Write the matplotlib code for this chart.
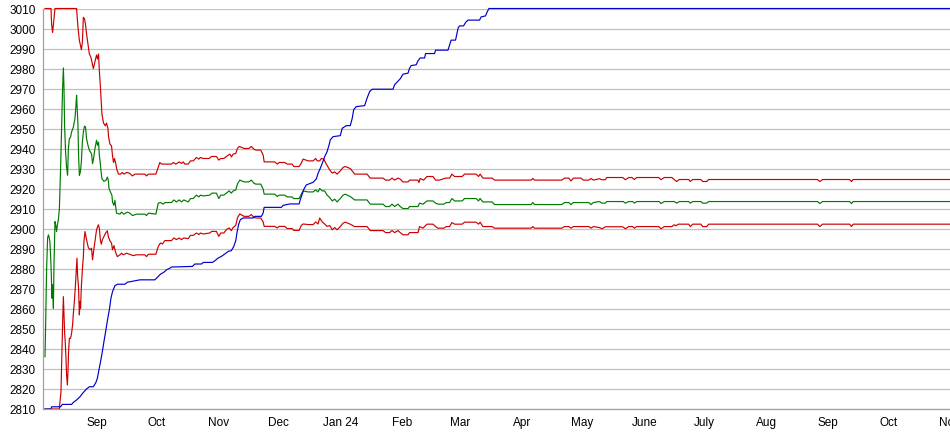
import matplotlib
matplotlib.use("Agg")
import matplotlib.pyplot as plt
import pandas as pd

# x values are day offsets from START
START = pd.Timestamp("2023-08-05")

upper_days = [1, 4, 4.3, 4.8, 5.2, 6, 16.8, 17.5, 18.2, 18.8, 19.2, 19.7, 20.2, 20.8, 21.3, 21.8,
              22.5, 23.2, 24, 24.7, 25.2, 26, 26.8, 27.3, 27.8, 28.2, 28.7, 29.2, 29.5, 30.3, 31.2,
              31.8, 32.5, 32.8, 33.5, 34.3, 34.8, 35.3, 35.8, 36.3, 37, 37.8, 38.8, 39.7, 40.5, 41.8,
              43.2, 44.8, 46, 51, 51.8, 52.8, 56.5, 58.5, 59.3, 64.3, 65.2, 66.5, 68.2, 69.3, 70.2,
              71, 72.7, 73.8, 75.2, 76.8, 78, 78.8, 80.2, 83.2, 84.3, 86.8, 88, 89, 90.5, 91.8, 93.5,
              94.3, 95.2, 96.5, 97.3, 98.2, 100.7, 103, 104.3, 105.5, 106.5, 109, 110.2, 110.7, 116,
              117.3, 118.2, 121, 122.2, 124.7, 125.5, 128.2, 129.3, 130.2, 132.7, 135.2, 136.5,
              137.3, 138.5, 139.3, 140.5, 141.8, 143.5, 144.8, 146, 147.2, 148.8, 150.2, 151.3,
              153.8, 156, 162.2, 163.8, 170.2, 171.5, 173.5, 174.7, 176, 177.7, 178.8, 180.2, 182.7,
              183.5, 187.7, 188.2, 188.8, 190.5, 192.2, 195.2, 196.5, 198.5, 201.5, 203.5, 204.7,
              206, 209.8, 211, 216.8, 218, 218.8, 220.2, 224.8, 226, 244.3, 245.2, 246, 259.7, 261,
              263.2, 264.3, 265.5, 269.3, 270.5, 273.2, 274.3, 275.5, 278.5, 279.8, 281.5, 282.2,
              290.2, 291.5, 293.2, 294.8, 296, 297.2, 308.2, 309.3, 311, 314.8, 316, 317.2, 318.5,
              323.2, 324, 325.2, 329.3, 330.2, 332.2, 333.2, 387.7, 388.8, 390.2, 403.8, 404.7,
              405.5, 454]
upper_vals = [3010, 3010, 3002.3, 2998, 3002, 3010, 3010, 3000.6, 2994, 2991.4, 2989.4, 2993,
              3005.6, 3004.8, 3001.8, 2997.3, 2992.3, 2987.3, 2985.6, 2982.3, 2980, 2983.4, 2986.8,
              2984.8, 2987.3, 2978.9, 2971.4, 2962.3, 2957.3, 2952.8, 2951.4, 2952.8, 2950.1,
              2946.1, 2942.3, 2941.4, 2936.4, 2933.1, 2935.1, 2933.1, 2929.4, 2927.3, 2927.3,
              2928.1, 2927.3, 2928.1, 2927.8, 2926.4, 2927.3, 2927.3, 2926.4, 2927.3, 2927.3,
              2933.1, 2932.3, 2932.3, 2933.1, 2932.3, 2933.4, 2932.6, 2933.4, 2932.3, 2932.3,
              2933.9, 2933.9, 2935.6, 2934.8, 2935.6, 2935.1, 2935.1, 2936.1, 2936.1, 2934.3,
              2935.1, 2935.1, 2936.1, 2937.3, 2935.9, 2937.3, 2937.6, 2940.1, 2941.1, 2940.1,
              2940.1, 2941.1, 2939.8, 2939.3, 2939.3, 2936.8, 2933.4, 2933.4, 2932.3, 2933.1,
              2933.1, 2932.3, 2932.3, 2931.1, 2931.1, 2932.8, 2934.8, 2933.9, 2933.9, 2935.1,
              2933.9, 2933.9, 2935.1, 2934.8, 2932.3, 2929.4, 2927.8, 2928.4, 2927.3, 2928.9,
              2930.6, 2931.1, 2930.1, 2927.3, 2927.3, 2925.3, 2925.3, 2924.3, 2924.3, 2925.3,
              2924.3, 2925.3, 2924.8, 2923.4, 2923.4, 2924.3, 2924.3, 2923.1, 2925.1, 2924.3,
              2926.1, 2926.1, 2924.3, 2924.3, 2925.3, 2925.3, 2927.3, 2926.1, 2926.1, 2927.3,
              2927.3, 2926.1, 2927.3, 2925.3, 2925.3, 2924.3, 2924.3, 2925.1, 2924.3, 2924.3,
              2925.3, 2925.3, 2923.9, 2925.3, 2925.3, 2924.3, 2924.3, 2925.1, 2924.3, 2925.0,
              2924.5, 2924.5, 2925.6, 2925.6, 2924.5, 2925.6, 2925.6, 2924.6, 2925.6, 2925.6,
              2924.5, 2925.6, 2925.6, 2924.5, 2923.6, 2924.6, 2924.6, 2923.6, 2924.6, 2924.6,
              2923.6, 2923.6, 2924.6, 2924.6, 2923.6, 2924.6, 2924.6, 2923.6, 2924.6, 2924.6]

mid_days = [1, 1.3, 1.8, 2.3, 2.7, 3.2, 3.5, 4, 4.5, 4.8, 5.2, 5.5, 6, 6.5, 6.8, 7.2, 7.7, 8.2,
            8.8, 9.3, 9.8, 10.2, 10.5, 10.8, 11.3, 11.8, 12.3, 12.7, 13.2, 13.8, 14.3, 15.2, 16,
            16.5, 16.8, 17.2, 17.5, 17.8, 18.2, 18.7, 19.2, 19.7, 20.2, 20.8, 21.3, 21.8, 22.5,
            23.2, 23.8, 24.3, 24.8, 25.3, 26, 26.8, 27.3, 27.8, 28.2, 28.7, 29, 29.5, 30.5, 31.5,
            32.2, 32.7, 33, 33.8, 34.5, 34.8, 35.5, 36, 36.5, 36.8, 38.5, 39.3, 40.5, 42.2, 43.5,
            44.8, 46.8, 51, 51.8, 52.8, 56.5, 57.7, 58.8, 60.2, 61, 64.3, 65.5, 66.8, 68.2, 69.3,
            70.5, 72.7, 73.8, 75.2, 76.8, 78, 78.8, 80.2, 83.5, 84.5, 86.8, 88, 89, 90.5, 91.8,
            93.2, 94.2, 95.2, 96.5, 97.3, 98.5, 100.7, 103, 104.3, 105.5, 106.5, 109, 110.2,
            110.7, 116, 117.3, 118.2, 121, 122.2, 124.7, 125.5, 128.2, 129.3, 130.2, 132.7, 135.2,
            136.5, 137.7, 138.5, 139.8, 141, 142.2, 143.5, 144.8, 146, 147.2, 148.8, 150.2, 151.3,
            153.8, 156, 162.2, 163.8, 170.2, 171.5, 173.5, 174.7, 176, 177.7, 178.8, 180.2, 182.7,
            183.5, 187.7, 188.5, 190.2, 192.2, 195.2, 196.5, 197.7, 200.7, 201.8, 203.5, 204.7,
            206, 209.8, 211, 216.8, 218, 218.8, 220.2, 224.8, 226, 244.3, 245.2, 246, 259.7, 261,
            263.2, 264.3, 265.5, 273.2, 274.3, 275.5, 278.5, 279.8, 281.5, 282.2, 290.5, 291.5,
            293.2, 295.2, 296, 297.2, 308.5, 309.3, 311, 316, 317.2, 318.5, 323.2, 324, 325.2,
            329.3, 330.2, 332.2, 333.2, 387.7, 388.8, 390.2, 403.8, 404.7, 405.5, 454]
mid_vals = [2836.1, 2851, 2879.5, 2895.3, 2897, 2895.3, 2892.8, 2882, 2865.3, 2872, 2860.3, 2882,
            2903.6, 2901.1, 2898.6, 2902, 2904.5, 2910, 2930, 2949.2, 2970, 2980.3, 2970.8,
            2951.7, 2938.3, 2930.8, 2926.7, 2940, 2945, 2945.8, 2948.3, 2950.8, 2955, 2961.7,
            2966.7, 2957.5, 2951.7, 2936.7, 2926.7, 2928.3, 2933.3, 2943.3, 2948.3, 2951.3,
            2950.8, 2945, 2941.7, 2939.2, 2938.3, 2937.5, 2932.5, 2935, 2940, 2944.2, 2941.7,
            2943.3, 2936.7, 2932.5, 2929.2, 2925, 2923.7, 2924.2, 2925.8, 2924.2, 2920.3, 2918.3,
            2916.7, 2913.3, 2911.7, 2914.2, 2910, 2907.8, 2907.3, 2908.3, 2907.3, 2908.3, 2907.8,
            2906.6, 2907.3, 2907.3, 2906.6, 2907.8, 2907.3, 2912.8, 2913.1, 2912.3, 2913.1,
            2913.1, 2914.4, 2913.4, 2914.4, 2913.4, 2914.4, 2913.4, 2915.1, 2915.1, 2916.8,
            2915.9, 2916.8, 2916.4, 2916.8, 2917.8, 2917.8, 2915.1, 2916.8, 2916.8, 2917.8,
            2918.9, 2917.8, 2918.9, 2919.4, 2922.3, 2924.3, 2923.4, 2923.4, 2924.3, 2922.8,
            2922.3, 2922.3, 2919.8, 2917.3, 2917.3, 2916.1, 2916.8, 2916.8, 2915.9, 2915.9,
            2915.1, 2915.1, 2917.3, 2918.9, 2918.4, 2918.4, 2919.4, 2918.4, 2920.1, 2918.9,
            2918.9, 2916.8, 2915.6, 2913.9, 2914.8, 2913.4, 2915.1, 2916.8, 2917.3, 2916.1,
            2914.4, 2914.4, 2912.3, 2912.3, 2911.1, 2911.1, 2912.3, 2911.1, 2912.3, 2911.1,
            2910.1, 2910.1, 2911.1, 2911.1, 2912.8, 2912.3, 2913.9, 2913.9, 2912.8, 2912.3,
            2912.3, 2913.1, 2913.1, 2915.1, 2913.9, 2913.9, 2915.1, 2915.1, 2913.9, 2915.1,
            2913.4, 2913.4, 2912.1, 2912.1, 2913.1, 2912.1, 2912.1, 2913.1, 2913.1, 2912.1,
            2913.1, 2913.1, 2912.1, 2913.1, 2913.6, 2912.8, 2912.8, 2913.6, 2913.6, 2912.8,
            2913.6, 2913.6, 2912.8, 2913.6, 2913.6, 2912.6, 2913.6, 2913.6, 2912.8, 2913.6,
            2913.6, 2912.8, 2913.6, 2913.6, 2912.8, 2912.8, 2913.6, 2913.6, 2912.6, 2913.6,
            2913.6, 2912.6, 2913.6, 2913.6]

lower_days = [1, 8.2, 8.5, 9, 9.3, 9.8, 10.2, 10.5, 10.8, 11.2, 11.5, 11.8, 12.2, 12.5, 12.8, 13.2,
              13.8, 14.3, 14.8, 15.2, 15.7, 16.2, 16.7, 17, 17.3, 17.8, 18.2, 18.5, 18.8, 19.2,
              19.7, 20.2, 20.5, 21, 21.5, 22, 22.7, 23.5, 24.3, 24.8, 25.3, 26, 26.8, 27.7, 28.2,
              28.7, 29.2, 29.7, 30.5, 31.3, 32.2, 32.7, 33.5, 34.3, 34.8, 35.5, 36, 36.5, 37.2,
              38.5, 39.3, 40.2, 41.8, 43.2, 45.2, 46.8, 51, 51.8, 52.8, 56.5, 57.7, 58.8, 59.8, 61,
              64.3, 65.5, 66.8, 68.2, 69.3, 70.5, 72.7, 73.8, 75.2, 76.8, 78, 78.8, 80.2, 83.5,
              84.5, 86.8, 88, 89, 90.5, 91.8, 93.2, 94.2, 95.2, 96.5, 97.3, 98.5, 100.7, 103,
              104.3, 105.5, 106.5, 109, 110.2, 110.7, 116, 117.3, 118.2, 121, 122.2, 124.7, 125.5,
              128.2, 129.3, 130.2, 132.7, 135.2, 136.5, 137.7, 138.5, 139.8, 141, 142.2, 143.5,
              144.8, 146, 147.2, 148.8, 150.2, 151.3, 153.8, 156, 162.2, 163.8, 170.2, 171.5,
              173.5, 174.7, 176, 177.7, 178.8, 180.2, 182.7, 183.5, 187.7, 188.5, 190.2, 192.2,
              195.2, 196.5, 197.7, 200.7, 201.8, 203.5, 204.7, 206, 209.8, 211, 216.8, 218, 218.8,
              220.2, 224.8, 226, 244.3, 245.2, 246, 259.7, 261, 263.2, 264.3, 265.5, 273.2, 274.3,
              275.5, 278.5, 279.8, 281.5, 290.2, 291.5, 293.2, 295.2, 296, 297.2, 308.2, 309.3,
              311, 314.8, 316, 316.8, 318, 323.2, 324, 325.2, 329.3, 330.2, 332.2, 333.2, 387.7,
              388.8, 390.2, 403.8, 404.7, 405.5, 454]
lower_vals = [2810, 2810, 2813.6, 2818.6, 2832, 2852, 2866.1, 2857.8, 2848.6, 2842, 2835.3, 2827,
              2822, 2828.6, 2838.6, 2845.3, 2845.3, 2847.8, 2852, 2857.8, 2863.6, 2871.1, 2880.3,
              2885.3, 2877, 2870.3, 2857, 2863.6, 2860.3, 2871.1, 2879.5, 2886.1, 2893.6, 2898.6,
              2896.1, 2893.6, 2890.6, 2889.5, 2890.3, 2884.5, 2888.6, 2893.6, 2899.5, 2902,
              2900.3, 2894.5, 2892.3, 2894.5, 2896.1, 2897.8, 2899, 2896.1, 2894, 2892.8, 2889.5,
              2891.6, 2889.5, 2887.8, 2886.1, 2887, 2887.8, 2887, 2887.8, 2887.3, 2886.6, 2887,
              2887, 2886.1, 2887.3, 2887.3, 2891.2, 2892.9, 2892.4, 2894.1, 2894.1, 2895.4,
              2894.6, 2895.4, 2894.6, 2895.4, 2895.1, 2896.7, 2896.7, 2897.9, 2897.1, 2897.9,
              2897.4, 2897.9, 2898.7, 2898.7, 2896.2, 2897.9, 2897.9, 2899.6, 2900.4, 2899.1,
              2900.7, 2901.7, 2905.4, 2907.4, 2906.2, 2906.2, 2907.1, 2905.7, 2905.4, 2905.4,
              2903.4, 2901.2, 2901.2, 2900.4, 2901.2, 2901.2, 2900.1, 2900.1, 2899.2, 2899.2,
              2901.7, 2902.4, 2902.1, 2902.1, 2903.4, 2902.4, 2905.4, 2903.4, 2902.4, 2901.2,
              2901.6, 2899.5, 2900.6, 2899.5, 2901.1, 2902.8, 2903.3, 2902.3, 2901.1, 2901.1,
              2899.1, 2899.1, 2898.1, 2898.1, 2899.1, 2898.1, 2899.1, 2898.1, 2897, 2897, 2898.1,
              2898.1, 2901.1, 2900.3, 2902.3, 2902.3, 2901.1, 2900.3, 2900.3, 2901.1, 2901.1,
              2903.1, 2902.3, 2902.3, 2903.3, 2903.3, 2902.3, 2903.3, 2901.1, 2901.1, 2900.3,
              2900.3, 2901.1, 2900.3, 2900.3, 2901.1, 2901.1, 2900.3, 2901.1, 2901.1, 2900.3,
              2901.1, 2900.6, 2900, 2901, 2901, 2900, 2901.1, 2901.1, 2900.3, 2901.1, 2901.1,
              2900, 2901.1, 2901.1, 2902, 2901.5, 2902.3, 2902.3, 2901.1, 2902.3, 2902.3, 2901.1,
              2901.1, 2902.3, 2902.3, 2901.1, 2902.3, 2902.3, 2901.1, 2902.3, 2902.3]

blue_days = [1, 4, 4.3, 8.8, 9.7, 14.3, 15.2, 16.8, 18.5, 19.8, 21.8, 23.2, 25.2, 26.5, 27.2, 28,
             28.8, 29.7, 30.5, 31.5, 32.3, 33.2, 34, 34.8, 36, 37.3, 41, 42.2, 48.5, 56, 56.8, 58.8,
             60.5, 61.8, 63.5, 64.3, 74.8, 76, 79.3, 80.2, 84.8, 86, 87.7, 89.3, 91, 92.7, 94.3,
             95.5, 96.5, 97.2, 98, 98.8, 100.2, 105.2, 106, 109.3, 110.2, 110.7, 119.3, 120.2,
             123.5, 128.2, 128.8, 129.8, 130.5, 131.8, 135.2, 136.8, 137.7, 138.8, 139.8, 141,
             142.2, 143.2, 143.8, 145.2, 148.8, 149.8, 151.8, 153.8, 154.8, 155.5, 156.8, 161,
             162.2, 163.5, 164.8, 175.2, 176, 177.2, 178.8, 180.2, 182.7, 183.5, 184.3, 186.8,
             187.7, 188.8, 191, 191.5, 196, 196.5, 202.7, 203.5, 204.3, 206.5, 207.2, 207.8,
             208.5, 210.5, 211.5, 212.7, 218.5, 219.3, 221.5, 222.2, 223.2, 454]
blue_vals = [2810, 2810, 2811.1, 2811.1, 2812.3, 2812.3, 2813.3, 2814.5, 2816.1, 2817.8, 2820,
             2821.1, 2821.1, 2823.3, 2825.3, 2829.5, 2833.6, 2838.6, 2843.6, 2849.5, 2854.5,
             2859.5, 2865.3, 2868.6, 2871.6, 2872.3, 2872.3, 2873.3, 2874.5, 2874.5, 2875.3,
             2877.3, 2878.3, 2879.5, 2880.3, 2880.9, 2881.2, 2882.4, 2882.4, 2883.2, 2883.2, 2884,
             2885.4, 2886.2, 2887.4, 2888.7, 2889.1, 2891.2, 2894.1, 2898.7, 2902.4, 2904.6,
             2905.4, 2905.4, 2906.2, 2906.2, 2907.9, 2910.7, 2910.7, 2911.7, 2912.4, 2912.4,
             2914.6, 2917.4, 2919.6, 2921.9, 2923.2, 2924.9, 2927.7, 2930.2, 2932.7, 2936,
             2938.5, 2941.9, 2944.4, 2946, 2946.5, 2950.2, 2951.5, 2951.5, 2955.2, 2959.4, 2961,
             2961.5, 2965.2, 2968.5, 2969.7, 2969.7, 2971.9, 2973.2, 2974.9, 2977.2, 2977.7,
             2980.2, 2981.5, 2981.9, 2983.9, 2985.3, 2985.3, 2987.5, 2987.5, 2989.2, 2989.2,
             2991.7, 2994.2, 2994.2, 2997.5, 3000.3, 3001.3, 3001.3, 3003, 3004.2, 3004.2, 3005.8,
             3006.3, 3008, 3010, 3010]

month_labels = ["Sep", "Oct", "Nov", "Dec", "Jan 24", "Feb", "Mar", "Apr", "May", "June",
                "July", "Aug", "Sep", "Oct", "Nov"]


def to_dates(days):
    return START + pd.to_timedelta(days, unit="D")


plt.rcParams["font.family"] = ["Liberation Sans", "DejaVu Sans"]

fig = plt.figure(figsize=(9.5, 4.35), dpi=100)
ax = fig.add_axes([43 / 950, 1 - 410 / 435, 1 - 43 / 950, 400.5 / 435])

line_kw = dict(lw=0.85, clip_on=False)
ax.plot(to_dates(upper_days), upper_vals, color="#cc0000", **line_kw)
ax.plot(to_dates(mid_days), mid_vals, color="#007a00", **line_kw)
ax.plot(to_dates(lower_days), lower_vals, color="#cc0000", **line_kw)
ax.plot(to_dates(blue_days), blue_vals, color="#0000cc", **line_kw)

ax.set_ylim(2810, 3010)
ax.set_yticks(range(2810, 3011, 10))
ax.set_xlim(START, START + pd.Timedelta(days=453.5))
ax.set_xticks(pd.date_range("2023-09-01", "2024-11-01", freq="MS"))
ax.set_xticklabels(month_labels)

ax.grid(axis="y", color="#c0c0c0", lw=0.9)
ax.set_axisbelow(True)
for side in ["top", "right"]:
    ax.spines[side].set_visible(False)
for side in ["left", "bottom"]:
    ax.spines[side].set_color("#a0a0a0")
    ax.spines[side].set_linewidth(0.9)
ax.tick_params(axis="both", length=0, labelsize=8.5, colors="#000000")
ax.tick_params(axis="y", pad=5)
ax.tick_params(axis="x", pad=5)

fig.savefig("out.png", dpi=100)
